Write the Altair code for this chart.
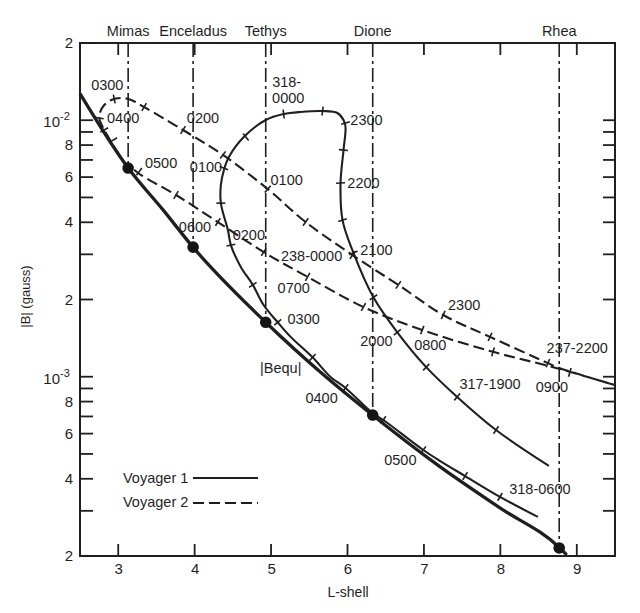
import math
import altair as alt
import pandas as pd

# ---------------- axes ----------------
X_DOMAIN = [2.5, 9.5]
Y_DOMAIN = [2e-4, 2e-2]
W, H = 535, 513

x_ticks = [3, 4, 5, 6, 7, 8, 9]
y_ticks = [2e-4, 3e-4, 4e-4, 5e-4, 6e-4, 7e-4, 8e-4, 9e-4,
           1e-3, 2e-3, 3e-3, 4e-3, 5e-3, 6e-3, 7e-3, 8e-3, 9e-3,
           1e-2, 2e-2]
y_label_values = [2e-4, 4e-4, 6e-4, 8e-4, 1e-3, 2e-3, 4e-3, 6e-3, 8e-3, 1e-2, 2e-2]
y_label_texts = ["2", "4", "6", "8", "10", "2", "4", "6", "8", "10", "2"]
y_sup_values = [1e-3, 1e-2]
y_sup_texts = ["-3", "-2"]

# ---------------- moons ----------------
moon_names = ["Mimas", "Enceladus", "Tethys", "Dione", "Rhea"]
moon_L = [3.13, 3.98, 4.93, 6.33, 8.77]
moon_B = [6.51e-3, 3.20e-3, 1.63e-3, 7.09e-4, 2.15e-4]

# ---------------- |Bequ| ----------------
bequ_L = [2.5, 3.130, 3.587, 3.978, 4.930, 5.648, 6.326, 7.213, 7.995, 8.778, 8.869]
bequ_B = [1.27e-2, 6.51e-3, 4.47e-3, 3.20e-3, 1.63e-3, 1.04e-3, 7.09e-4, 4.45e-4, 3.08e-4, 2.15e-4, 2.02e-4]

# ---------------- Voyager 1 (317-1800 ... 318-0600) ----------------
v1_L = [8.635, 7.943, 7.435, 7.030, 6.652, 6.339, 6.078, 5.935, 5.909, 5.948,
        5.974, 5.948, 5.869, 5.674, 5.387, 5.165, 4.930, 4.643, 4.448, 4.383,
        4.343, 4.343, 4.435, 4.474, 4.604, 4.761, 4.904, 5.087, 5.256, 5.543,
        5.778, 5.974, 6.326, 6.469, 6.991, 7.213, 7.539, 7.995, 8.491]
v1_B = [4.49e-4, 6.20e-4, 8.34e-4, 1.09e-3, 1.49e-3, 2.04e-3, 3.04e-3, 4.08e-3, 5.69e-3, 7.65e-3,
        9.41e-3, 1.002e-2, 1.067e-2, 1.086e-2, 1.077e-2, 1.057e-2, 1.002e-2, 8.60e-3, 7.19e-3, 6.40e-3,
        5.59e-3, 4.75e-3, 3.73e-3, 3.26e-3, 2.68e-3, 2.28e-3, 1.90e-3, 1.63e-3, 1.43e-3, 1.19e-3,
        9.98e-4, 9.04e-4, 7.22e-4, 6.78e-4, 5.18e-4, 4.69e-4, 4.10e-4, 3.40e-4, 2.84e-4]
v1_tick_L = [7.943, 7.435, 7.030, 6.652, 6.339, 6.078, 5.935, 5.909, 5.948, 5.974,
             5.674, 5.165, 4.670, 4.383, 4.343, 4.474, 4.761, 5.087, 5.543, 5.974,
             6.469, 6.991, 7.539, 7.995]
v1_tick_B = [6.20e-4, 8.34e-4, 1.09e-3, 1.49e-3, 2.04e-3, 3.04e-3, 4.08e-3, 5.69e-3, 7.65e-3, 9.75e-3,
             1.086e-2, 1.057e-2, 8.60e-3, 6.51e-3, 4.75e-3, 3.26e-3, 2.28e-3, 1.63e-3, 1.19e-3, 9.04e-4,
             6.78e-4, 5.18e-4, 4.10e-4, 3.40e-4]

# ---------------- Voyager 2 (237-2200 ... 238-0900) ----------------
v2_L = [9.495, 8.778, 8.622, 7.865, 7.252, 6.665, 6.065, 5.452, 4.956, 4.370,
        3.848, 3.339, 3.170, 3.039, 2.909, 2.817, 2.765, 2.752, 2.791, 2.870,
        2.974, 3.091, 3.209, 3.300, 3.756, 4.304, 4.904, 5.478, 6.209, 6.978,
        7.904, 8.739, 9.495]
v2_B = [9.28e-4, 1.08e-3, 1.13e-3, 1.43e-3, 1.74e-3, 2.28e-3, 2.98e-3, 4.01e-3, 5.39e-3, 7.32e-3,
        9.16e-3, 1.126e-2, 1.199e-2, 1.221e-2, 1.199e-2, 1.146e-2, 1.077e-2, 1.020e-2, 9.49e-3, 8.60e-3,
        7.65e-3, 6.81e-3, 6.40e-3, 6.11e-3, 5.11e-3, 4.01e-3, 3.06e-3, 2.45e-3, 1.87e-3, 1.52e-3,
        1.25e-3, 1.08e-3, 9.28e-4]
v2_tick_L = [8.622, 7.865, 7.252, 6.665, 6.065, 5.452, 4.956, 4.370, 3.848, 3.339,
             2.948, 2.752, 2.817, 2.935, 3.274, 3.756, 4.304, 4.904, 5.478, 6.209,
             6.978, 7.904, 8.909]
v2_tick_B = [1.13e-3, 1.43e-3, 1.74e-3, 2.28e-3, 2.98e-3, 4.01e-3, 5.39e-3, 7.32e-3, 9.16e-3, 1.126e-2,
             1.210e-2, 1.020e-2, 9.16e-3, 8.37e-3, 6.30e-3, 5.11e-3, 4.01e-3, 3.06e-3, 2.45e-3, 1.87e-3,
             1.52e-3, 1.25e-3, 1.04e-3]

# ---------------- annotations ----------------
label_text = ["0300", "0400", "0200", "0500", "0100", "0100", "318-", "0000", "2300", "2200",
              "2100", "238-0000", "0600", "0200", "0700", "0300", "|Bequ|", "2300", "2000", "0800",
              "237-2200", "0900", "317-1900", "0400", "0500", "318-0600"]
label_L = [2.857, 3.065, 4.109, 3.561, 4.148, 5.204, 5.204, 5.224, 6.248, 6.209,
           6.378, 5.530, 4.004, 4.709, 5.296, 5.426, 5.126, 7.526, 6.378, 7.083,
           9.006, 8.674, 7.865, 5.661, 6.691, 8.517]
label_B = [1.360e-2, 1.011e-2, 1.011e-2, 6.75e-3, 6.51e-3, 5.79e-3, 1.395e-2, 1.205e-2, 9.93e-3, 5.64e-3,
           3.09e-3, 2.93e-3, 3.80e-3, 3.54e-3, 2.20e-3, 1.66e-3, 1.07e-3, 1.89e-3, 1.37e-3, 1.32e-3,
           1.28e-3, 9.04e-4, 9.28e-4, 8.19e-4, 4.69e-4, 3.62e-4]

legend_names = ["Voyager 1", "Voyager 2"]

FONT = "Liberation Sans"
INK = "#1f1f1f"


def to_screen(L, B):
    sx = (L - X_DOMAIN[0]) / (X_DOMAIN[1] - X_DOMAIN[0]) * W
    ly0, ly1 = math.log10(Y_DOMAIN[0]), math.log10(Y_DOMAIN[1])
    sy = (ly1 - math.log10(B)) / (ly1 - ly0) * H
    return sx, sy


def tick_angles(path_L, path_B, tk_L, tk_B):
    pts = [to_screen(a, b) for a, b in zip(path_L, path_B)]
    out = []
    for a, b in zip(tk_L, tk_B):
        px, py = to_screen(a, b)
        best = None
        for (x1, y1), (x2, y2) in zip(pts[:-1], pts[1:]):
            dx, dy = x2 - x1, y2 - y1
            l2 = dx * dx + dy * dy or 1e-9
            t = max(0.0, min(1.0, ((px - x1) * dx + (py - y1) * dy) / l2))
            qx, qy = x1 + t * dx, y1 + t * dy
            d = (px - qx) ** 2 + (py - qy) ** 2
            if best is None or d < best[0]:
                best = (d, dx, dy)
        out.append((math.degrees(math.atan2(best[2], best[1])) + 90) % 180)
    return out


def path_df(Ls, Bs):
    return pd.DataFrame({"L": Ls, "B": Bs, "i": list(range(len(Ls)))})


xscale = alt.Scale(domain=X_DOMAIN, nice=False, zero=False)
yscale = alt.Scale(type="log", domain=Y_DOMAIN, nice=False)
X = alt.X("L:Q", scale=xscale,
          axis=alt.Axis(values=x_ticks, title="L-shell", ticks=False, tickSize=0, domain=False,
                        grid=False, labelFontSize=15, labelFont=FONT, labelColor=INK,
                        labelPadding=5, titleFontSize=14, titleFont=FONT, titleColor=INK,
                        titleFontWeight="normal", titlePadding=9))
Y = alt.Y("B:Q", scale=yscale, axis=None)

moons = pd.DataFrame({"name": moon_names, "L": moon_L, "B": moon_B,
                      "top": [Y_DOMAIN[1]] * len(moon_L)})

moon_rules = alt.Chart(moons).mark_rule(color=INK, strokeWidth=1.6, strokeDash=[14, 4, 3, 4]).encode(
    x=X, y=alt.Y("top:Q", scale=yscale, axis=None), y2="B:Q")

bequ = alt.Chart(path_df(bequ_L, bequ_B)).mark_line(color=INK, strokeWidth=3.3, interpolate="monotone").encode(
    x=X, y=Y, order="i:Q")
v1 = alt.Chart(path_df(v1_L, v1_B)).mark_line(color=INK, strokeWidth=2.1, interpolate="catmull-rom").encode(
    x=X, y=Y, order="i:Q")
v2 = alt.Chart(path_df(v2_L, v2_B)).mark_line(color=INK, strokeWidth=2.1, strokeDash=[11, 5],
                                               interpolate="catmull-rom").encode(x=X, y=Y, order="i:Q")

v1_ticks = pd.DataFrame({"L": v1_tick_L, "B": v1_tick_B,
                         "ang": tick_angles(v1_L, v1_B, v1_tick_L, v1_tick_B)})
v2_ticks = pd.DataFrame({"L": v2_tick_L, "B": v2_tick_B,
                         "ang": tick_angles(v2_L, v2_B, v2_tick_L, v2_tick_B)})
tick_marks = alt.layer(*[
    alt.Chart(d).mark_point(shape="stroke", size=81, strokeWidth=1.6, color=INK, opacity=1).encode(
        x=X, y=Y, angle=alt.Angle("ang:Q", scale=None))
    for d in (v1_ticks, v2_ticks)])

moon_dots = alt.Chart(moons).mark_circle(size=135, color="#151515", opacity=1).encode(x=X, y=Y)
moon_text = alt.Chart(moons).mark_text(font=FONT, fontSize=14.5, color=INK, baseline="middle").encode(
    x=X, y=alt.value(-11), text="name:N")

ann = alt.Chart(pd.DataFrame({"t": label_text, "L": label_L, "B": label_B})).mark_text(
    font=FONT, fontSize=14.5, color=INK, baseline="middle", align="center").encode(x=X, y=Y, text="t:N")

# frame ticks (pointing inward)
xt = pd.DataFrame({"L": x_ticks})
yt = pd.DataFrame({"B": y_ticks})
bottom_ticks = alt.Chart(xt).mark_rule(color=INK, strokeWidth=1.8).encode(
    x=X, y=alt.value(H), y2=alt.value(H - 12))
top_ticks = alt.Chart(xt).mark_rule(color=INK, strokeWidth=1.8).encode(
    x=X, y=alt.value(0), y2=alt.value(12))
left_ticks = alt.Chart(yt).mark_rule(color=INK, strokeWidth=1.8).encode(
    y=Y, x=alt.value(0), x2=alt.value(13))
right_ticks = alt.Chart(yt).mark_rule(color=INK, strokeWidth=1.8).encode(
    y=Y, x=alt.value(W), x2=alt.value(W - 12))

ylab = pd.DataFrame({"B": y_label_values, "t": y_label_texts})
ylab["pow"] = [v in y_sup_values for v in y_label_values]
y_labels_plain = alt.Chart(ylab[~ylab["pow"]]).mark_text(
    font=FONT, fontSize=15, color=INK, align="right", baseline="middle").encode(
    y=Y, x=alt.value(-7), text="t:N")
y_labels_ten = alt.Chart(ylab[ylab["pow"]]).mark_text(
    font=FONT, fontSize=15, color=INK, align="right", baseline="middle", dy=2).encode(
    y=Y, x=alt.value(-20), text="t:N")
y_sup = alt.Chart(pd.DataFrame({"B": y_sup_values, "t": y_sup_texts})).mark_text(
    font=FONT, fontSize=11, color=INK, align="left", baseline="middle", dy=-3).encode(
    y=Y, x=alt.value(-20), text="t:N")

y_title = alt.Chart(pd.DataFrame({"t": ["|B| (gauss)"]})).mark_text(
    font=FONT, fontSize=13, color=INK, angle=270, baseline="middle", align="center").encode(
    x=alt.value(-54), y=alt.value(H / 2 - 3), text="t:N")

leg_text1 = alt.Chart(pd.DataFrame({"t": legend_names[:1]})).mark_text(
    font=FONT, fontSize=14.5, color=INK, align="left", baseline="middle").encode(
    x=alt.value(43), y=alt.value(436), text="t:N")
leg_text2 = alt.Chart(pd.DataFrame({"t": legend_names[1:]})).mark_text(
    font=FONT, fontSize=14.5, color=INK, align="left", baseline="middle").encode(
    x=alt.value(43), y=alt.value(460), text="t:N")
leg1 = alt.Chart(pd.DataFrame({"t": legend_names[:1]})).mark_rule(color=INK, strokeWidth=2).encode(
    x=alt.value(113), x2=alt.value(178), y=alt.value(435))
leg2 = alt.Chart(pd.DataFrame({"t": legend_names[1:]})).mark_rule(
    color=INK, strokeWidth=2, strokeDash=[11, 5]).encode(
    x=alt.value(113), x2=alt.value(178), y=alt.value(460))

chart = alt.layer(
    moon_rules, bequ, v1, v2, tick_marks, moon_dots, moon_text, ann,
    bottom_ticks, top_ticks, left_ticks, right_ticks,
    y_labels_plain, y_labels_ten, y_sup, y_title, leg_text1, leg_text2, leg1, leg2
).properties(
    width=W, height=H,
    padding={"left": 72, "top": 35, "right": 17, "bottom": 49},
    autosize=alt.AutoSizeParams(type="none"),
    background="white",
).configure_view(stroke="#1f1f1f", strokeWidth=2).resolve_scale(y="shared")

chart.save("out.html", embed_options={"renderer": "svg", "actions": False})
